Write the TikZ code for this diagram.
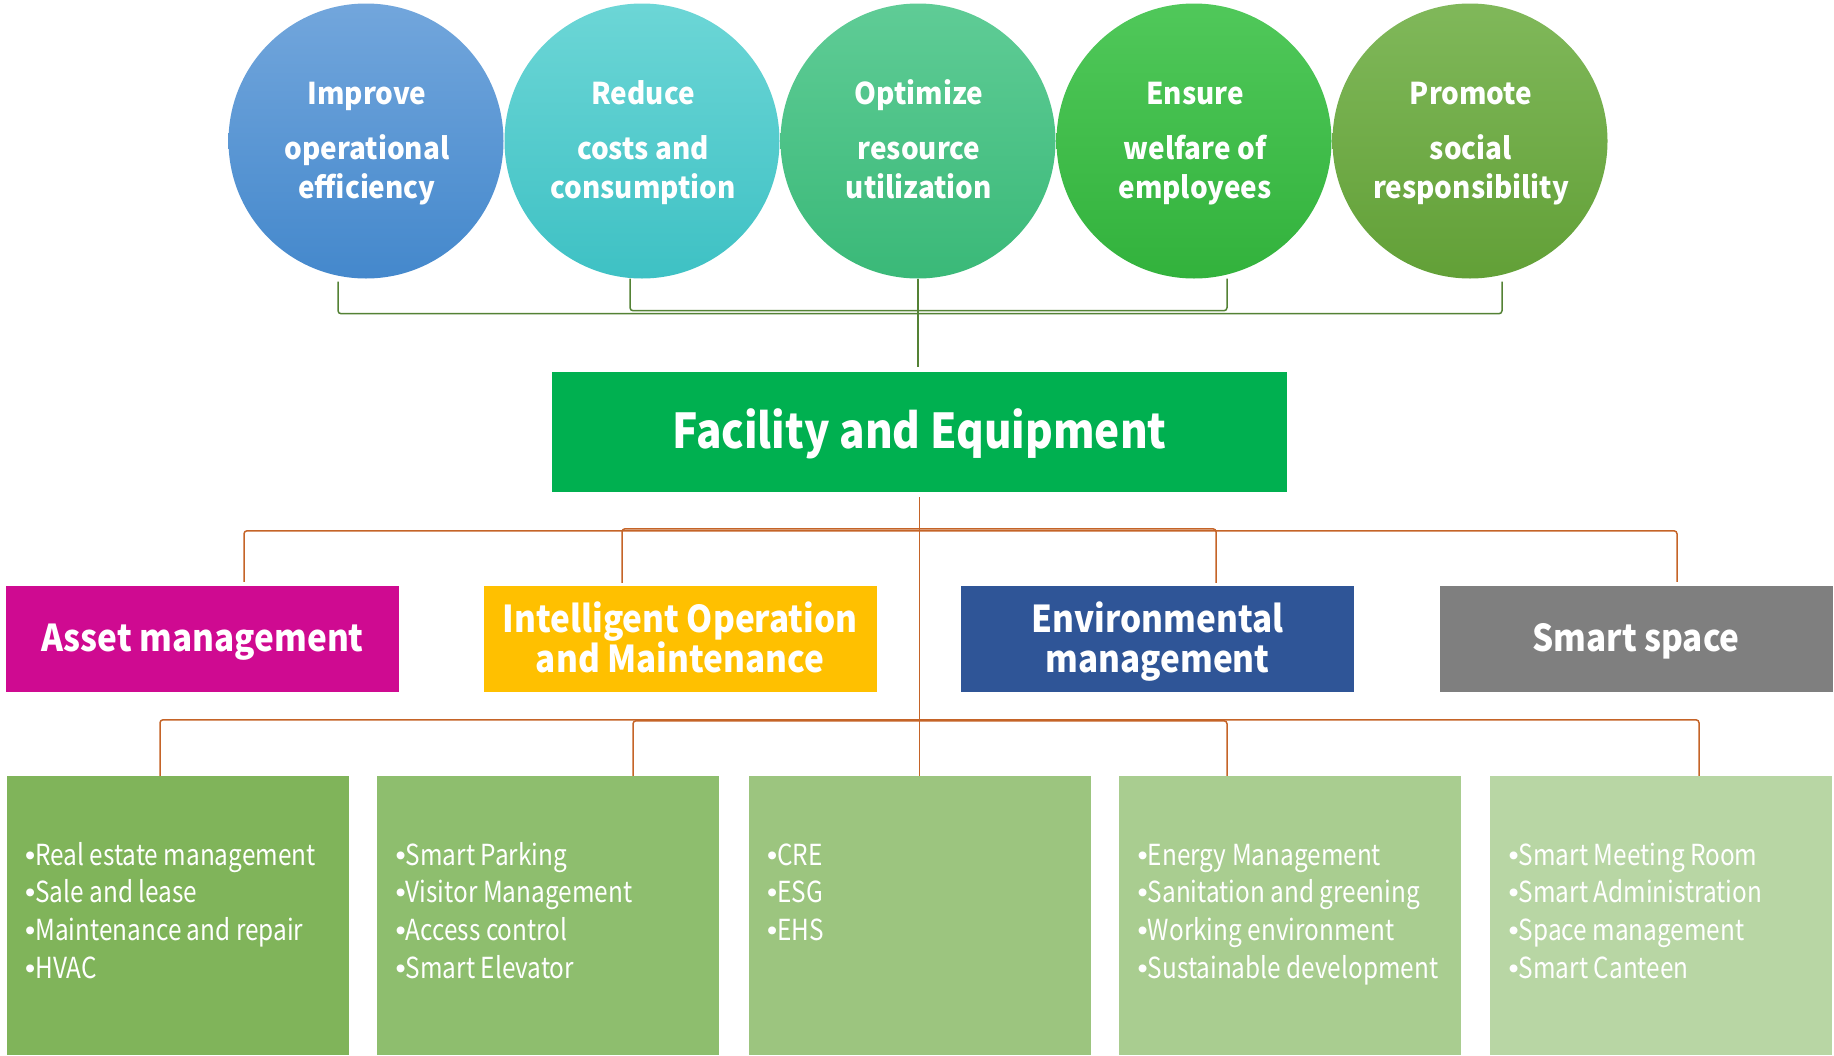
\documentclass[tikz,border=0pt]{standalone}
\usepackage{fontspec}
\setmainfont{Noto Sans CJK SC}
\newfontfamily\circfont[FakeStretch=0.93]{Noto Sans CJK SC}
\newfontfamily\facfont[FakeStretch=0.88]{Noto Sans CJK SC}
\newfontfamily\catfont[FakeStretch=0.9]{Noto Sans CJK SC}
\newfontfamily\itemfont[FakeStretch=0.84]{Noto Sans CJK SC}
\newfontfamily\bulfont{Liberation Sans}
\newcommand\bul{{\bulfont •}}
\definecolor{cA}{RGB}{207,10,145}
\definecolor{cB}{RGB}{255,192,0}
\definecolor{cC}{RGB}{47,85,151}
\definecolor{cD}{RGB}{127,127,127}
\definecolor{facc}{RGB}{0,176,80}
\definecolor{gline}{RGB}{84,130,53}
\definecolor{oline}{RGB}{197,100,40}
\definecolor{b1}{RGB}{128,180,90}
\definecolor{b2}{RGB}{142,190,110}
\definecolor{b3}{RGB}{156,197,127}
\definecolor{b4}{RGB}{169,205,144}
\definecolor{b5}{RGB}{184,214,164}
\definecolor{t1}{RGB}{114,166,220}\definecolor{u1}{RGB}{68,136,204}
\definecolor{t2}{RGB}{108,214,214}\definecolor{u2}{RGB}{62,193,196}
\definecolor{t3}{RGB}{95,204,150}\definecolor{u3}{RGB}{58,185,120}
\definecolor{t4}{RGB}{80,200,90}\definecolor{u4}{RGB}{50,178,60}
\definecolor{t5}{RGB}{128,184,90}\definecolor{u5}{RGB}{98,160,55}
\tikzset{
  circ/.style={circle, minimum size=275pt, inner sep=0pt},
  ctext/.style={text=white, font=\circfont\bfseries\fontsize{30}{39}\selectfont,
    align=center, anchor=base, inner sep=0pt},
  facbox/.style={rectangle, fill=facc, minimum width=735pt, minimum height=120pt, inner sep=0pt},
  factext/.style={text=white, font=\facfont\bfseries\fontsize{48}{50}\selectfont, anchor=base, inner sep=0pt},
  catbox/.style={rectangle, minimum width=393pt, minimum height=106pt, inner sep=0pt},
  cattext/.style={text=white, font=\catfont\bfseries\fontsize{37}{40}\selectfont,
    align=center, anchor=base, inner sep=0pt},
  itembox/.style={rectangle, minimum width=342pt, minimum height=279pt, inner sep=0pt},
  items/.style={text=white, font=\itemfont\fontsize{29}{37.6}\selectfont, align=left,
    anchor=base west, inner sep=0pt},
  gconn/.style={draw=gline, line width=1.5pt, rounded corners=3pt},
  oconn/.style={draw=oline, line width=1.5pt, rounded corners=3pt}
}
\begin{document}
\begin{tikzpicture}[x=1pt,y=-1pt]
\useasboundingbox (0,0) rectangle (1834,1055);
\fill[white] (0,0) rectangle (1834,1055);
% circles
\node[circ, top color=t1, bottom color=u1] (c1) at (366,141) {};
\node[circ, top color=t2, bottom color=u2] (c2) at (642,141) {};
\node[circ, top color=t3, bottom color=u3] (c3) at (918,141) {};
\node[circ, top color=t4, bottom color=u4] (c4) at (1194,141) {};
\node[circ, top color=t5, bottom color=u5] (c5) at (1470,141) {};
\node[ctext] (c1t) at (367,198) {Improve\\[16pt]operational\\efficiency};
\node[ctext] (c2t) at (643,198) {Reduce\\[16pt]costs and\\consumption};
\node[ctext] (c3t) at (919,198) {Optimize\\[16pt]resource\\utilization};
\node[ctext] (c4t) at (1195,198) {Ensure\\[16pt]welfare of\\employees};
\node[ctext] (c5t) at (1471,198) {Promote\\[16pt]social\\responsibility};
% central
\node[facbox] (fac) at (919.5,432) {};
\node[factext] (fact) at (919.5,448) {Facility and Equipment};
% categories
\node[catbox, fill=cA] (k1) at (202.5,639) {};
\node[catbox, fill=cB] (k2) at (680,639) {};
\node[catbox, fill=cC] (k3) at (1157.5,639) {};
\node[catbox, fill=cD] (k4) at (1636,639) {};
\node[cattext] (k1t) at (202.5,651) {Asset management};
\node[cattext] (k2t) at (680,672) {Intelligent Operation\\and Maintenance};
\node[cattext] (k3t) at (1157.5,672) {Environmental\\management};
\node[cattext] (k4t) at (1636,651) {Smart space};
% bottom boxes
\node[itembox, fill=b1] (i1) at (177.5,915.5) {};
\node[itembox, fill=b2] (i2) at (548,915.5) {};
\node[itembox, fill=b3] (i3) at (919.5,915.5) {};
\node[itembox, fill=b4] (i4) at (1290,915.5) {};
\node[itembox, fill=b5] (i5) at (1661,915.5) {};
\node[items] (l1) at (25,978) {\bul Real estate management\\\bul Sale and lease\\\bul Maintenance and repair\\\bul HVAC};
\node[items] (l2) at (395.5,978) {\bul Smart Parking\\\bul Visitor Management\\\bul Access control\\\bul Smart Elevator};
\node[items] (l3) at (767,940.4) {\bul CRE\\\bul ESG\\\bul EHS};
\node[items] (l4) at (1137.5,978) {\bul Energy Management\\\bul Sanitation and greening\\\bul Working environment\\\bul Sustainable development};
\node[items] (l5) at (1508.5,978) {\bul Smart Meeting Room\\\bul Smart Administration\\\bul Space management\\\bul Smart Canteen};
% green connectors
\draw[gconn] ([xshift=-28pt,yshift=-3pt]c1.south) -- ++(0,32) -| ([xshift=32pt,yshift=-3pt]c5.south);
\draw[gconn] ([xshift=-12pt]c2.south) -- ++(0,32) -| ([xshift=33pt]c4.south);
\draw[gconn] (c3.south) -- ([yshift=5pt]c3.south |- fac.north);
% orange connectors
\draw[oconn] ([yshift=-5pt]fac.south) -- (i3.north);
\draw[oconn] ([xshift=41.5pt,yshift=4pt]k1.north) -- ++(0,-51) -| ([xshift=41pt,yshift=4pt]k4.north);
\draw[oconn] ([xshift=-58pt,yshift=3pt]k2.north) -- ++(0,-54) -| ([xshift=58.5pt,yshift=3pt]k3.north);
\draw[oconn] ([xshift=-17.5pt]i1.north) -- ++(0,-56) -| ([xshift=38pt]i5.north);
\draw[oconn] ([xshift=85pt]i2.north) -- ++(0,-55) -| ([xshift=-63pt]i4.north);
\end{tikzpicture}
\end{document}
